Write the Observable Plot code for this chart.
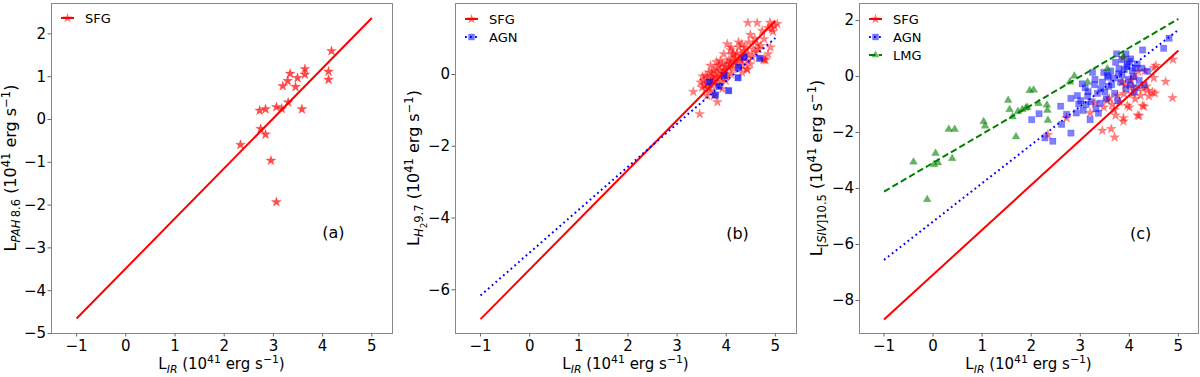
<!DOCTYPE html>
<html><head><meta charset="utf-8">
<script src="https://cdn.jsdelivr.net/npm/d3@7"></script>
<script src="https://cdn.jsdelivr.net/npm/@observablehq/plot@0.6"></script>
<style>
body{margin:0;background:#fff;}
#row{display:flex;width:1200px;height:377px;}
#row svg{display:block;flex:none;}
</style>
</head><body><div id="row"></div>
<script>
// ---------- Panel (a): PAH 8.6 ----------
const a_sfg_x = [2.33,2.72,2.84,2.74,2.84,2.95,3.06,3.06,3.17,3.30,3.19,3.29,3.34,3.49,3.45,3.58,3.64,3.64,4.12,4.12,4.18];
const a_sfg_y = [-0.59,0.21,0.24,-0.22,-0.35,-0.96,-1.93,0.29,0.25,0.40,0.78,0.90,1.07,0.97,0.76,0.24,1.18,1.05,1.12,0.93,1.60];
const a_fit_x = [-1, 5];
const a_fit_y = [-4.65, 2.37];

// ---------- Panel (b): H2 9.7 ----------
const b_sfg_x = [4.44,4.63,4.89,4.98,4.93,5.04,4.49,4.46,4.77,4.85,4.77,4.02,4.09,4.26,4.36,4.29,4.19,4.12,4.02,3.92,3.85,3.68,3.75,3.65,3.58,3.54,3.61,3.71,3.48,3.58,3.68,3.33,3.46,3.82,4.43,3.88,3.99,4.09,4.15,4.22,4.43,4.53,4.60,4.66,4.70,4.49,4.32,3.75,3.82,3.92,3.51,3.75,4.80,3.95,4.05,3.82,3.71,4.15,3.95,3.88,4.32,4.39,4.32,4.63,4.90,4.73,3.61,4.76,4.42,
  3.62,3.70,3.78,3.80,3.87,3.93,3.97,4.00,4.05,4.08,4.12,4.18,4.22,4.28,4.33,4.38,4.45,4.55,3.56,3.64,3.72,3.90,4.00,3.52,3.80,4.10,4.25,4.58,4.95,4.85];
const b_sfg_y = [1.44,1.44,1.45,1.36,1.27,1.41,1.11,0.90,0.99,0.57,0.43,0.85,0.68,0.76,0.66,0.53,0.48,0.39,0.34,0.29,0.25,0.25,0.11,0.06,-0.03,-0.17,-0.26,-0.31,-0.22,-0.40,-0.45,-0.48,-1.10,-0.77,0.13,-0.08,-0.17,0.01,0.15,0.29,0.39,0.48,0.62,0.71,0.80,0.29,0.06,-0.12,-0.26,-0.40,-0.36,-0.59,0.40,0.11,0.20,0.02,-0.08,0.57,0.57,0.39,0.39,0.57,0.85,0.85,0.76,1.22,-0.59,0.41,0.16,
  -0.10,0.05,-0.05,0.18,0.10,0.05,0.22,0.12,0.40,0.28,0.55,0.35,0.60,0.42,0.25,0.75,0.55,0.70,-0.30,-0.38,-0.18,-0.20,-0.05,-0.05,0.35,0.75,0.90,1.00,1.20,1.30];
const b_agn_x = [3.66,3.85,3.78,4.05,3.96,4.24,4.25,4.36,4.68];
const b_agn_y = [-0.21,-0.33,-0.57,-0.45,-0.03,-0.09,0.20,0.48,0.45];
const b_fit_sfg_x = [-1, 5];
const b_fit_sfg_y = [-6.82, 1.50];
const b_fit_agn_x = [-1, 5];
const b_fit_agn_y = [-6.16, 1.02];

// ---------- Panel (c): [SIV] 10.5 ----------
const c_sfg_x = [2.34,2.72,3.20,3.45,3.63,3.70,3.48,3.59,3.69,3.72,3.88,3.88,3.96,4.00,3.89,3.88,4.03,4.06,4.17,4.20,4.23,4.27,4.30,4.37,4.47,4.52,4.50,4.50,4.74,4.88,4.89,4.18,4.10,3.76,4.32,4.54,3.80,3.65,4.06,4.27,3.92,4.12,4.35,3.55,3.30,3.85,4.40];
const c_sfg_y = [-2.08,-1.48,-1.30,-1.93,-1.87,-2.17,-1.10,-0.78,-1.19,-1.39,-1.48,-1.60,-1.04,-1.10,-0.62,0.67,-0.14,-0.36,-1.39,-1.40,-0.68,-0.44,-1.07,-0.50,-0.56,-0.60,0.31,-0.05,-0.18,-0.76,0.61,0.18,-0.02,-0.68,0.21,0.39,-0.90,-1.00,-0.62,-1.04,-0.30,-0.80,-0.35,-0.85,-0.95,-0.20,-0.70];
const c_agn_x = [2.01,2.16,2.28,2.44,2.60,2.62,2.81,2.81,2.94,3.01,2.97,3.04,3.06,3.16,3.20,3.25,3.29,3.32,3.37,3.42,3.48,3.53,3.55,3.64,3.72,3.76,3.74,3.93,4.00,3.93,4.06,4.16,4.27,4.37,4.70,4.81,4.20,4.10,3.10,3.15,3.22,3.35,3.45,3.50,3.58,3.62,3.68,3.78,3.82,3.85,3.90,3.98,4.02,4.08,4.12,4.15,3.70,3.40,3.85,3.95,4.25,4.30,3.30,3.12,2.92,2.72,3.57,3.79,3.96,4.03];
const c_agn_y = [-1.54,-1.33,-2.19,-2.31,-1.06,-1.71,-0.78,-2.02,-0.68,-0.86,-0.98,-0.26,-1.21,-0.54,-1.54,0.15,-0.29,-1.15,-1.31,-0.44,0.15,-0.80,0.04,-0.29,0.51,-0.86,0.81,0.81,0.54,-0.44,0.21,0.45,0.95,0.19,1.01,1.37,-0.14,-0.56,-0.40,-0.70,-0.90,-0.60,-0.20,-0.55,-0.35,0.20,-0.05,0.10,-0.20,0.05,0.25,-0.10,-0.30,0.00,0.30,-0.40,-0.60,-0.95,0.60,0.35,0.30,-0.30,-0.10,-1.00,-1.30,-1.35,-0.02,0.28,0.45,0.63];
const c_lmg_x = [-0.40,-0.12,0.05,0.02,0.10,0.32,0.44,0.39,1.03,1.06,1.53,1.56,1.62,1.69,1.73,1.82,1.89,1.92,1.97,2.05,2.15,2.32,2.33,2.34,2.79,2.88,3.15,3.55,3.88];
const c_lmg_y = [-3.05,-4.39,-2.74,-3.14,-3.08,-1.88,-1.88,-2.93,-1.61,-1.77,-0.85,-1.18,-1.44,-2.15,-1.25,-1.18,-1.12,-1.10,-0.50,-0.48,-0.96,-1.02,-1.20,-1.56,-0.19,0.02,-0.20,0.27,0.72];
const c_fit_sfg_x = [-1, 5];
const c_fit_sfg_y = [-8.68, 0.93];
const c_fit_agn_x = [-1, 5];
const c_fit_agn_y = [-6.55, 1.67];
const c_fit_lmg_x = [-1, 5];
const c_fit_lmg_y = [-4.11, 2.06];

const xTicks = [-1, 0, 1, 2, 3, 4, 5];
const aYTicks = [-5, -4, -3, -2, -1, 0, 1, 2];
const bYTicks = [-6, -4, -2, 0];
const cYTicks = [-8, -6, -4, -2, 0, 2];
const seriesNames = ["SFG", "AGN", "LMG"];

// ---------- helpers ----------
const FONT = "DejaVu Sans, sans-serif";
const fmt = d => d < 0 ? "\u2212" + Math.abs(d) : String(d);
const pts = (xs, ys) => xs.map((x, i) => ({x, y: ys[i]}));

const STY = {
  SFG: {symbol: "star", color: "red", r: 3.1, line: {stroke: "red", dash: null}},
  AGN: {symbol: "square", color: "blue", r: 3.6, line: {stroke: "blue", dash: "1.8,3.2"}},
  LMG: {symbol: "triangle", color: "green", r: 2.9, line: {stroke: "green", dash: "6.5,3.2"}}
};

function rich(textSel, parts, fs) {
  const off = {n: 0, sub: 0.28, sup: -0.38, ssub: 0.5};
  const size = {n: 1, sub: 0.72, sup: 0.72, ssub: 0.55};
  let cur = 0;
  parts.forEach(p => {
    const target = off[p.s] * fs;
    textSel.append("tspan")
      .attr("dy", target - cur)
      .attr("font-size", size[p.s] * fs)
      .attr("font-style", p.i ? "italic" : "normal")
      .text(p.t);
    cur = target;
  });
}

const unitParts = [
  {t: " (10", s: "n"}, {t: "41", s: "sup"}, {t: " erg s", s: "n"}, {t: "\u22121", s: "sup"}, {t: ")", s: "n"}
];
const xLabelParts = [{t: "L", s: "n"}, {t: "IR", s: "sub", i: true}, ...unitParts];

function panel(cfg) {
  const marks = [
    Plot.frame({stroke: "#888", strokeWidth: 1}),
    Plot.axisX({ticks: xTicks, tickSize: 3.5, tickPadding: 3, tickFormat: fmt, label: null, fontSize: 15, stroke: "#666", fill: "black"}),
    Plot.axisY({ticks: cfg.yTicks, tickSize: 3.5, tickPadding: 2, tickFormat: fmt, label: null, fontSize: 15, stroke: "#666", fill: "black"})
  ];
  cfg.series.forEach(s => {
    const st = STY[s.name];
    marks.push(Plot.dot(pts(s.x, s.y), {x: "x", y: "y", symbol: () => st.symbol, r: st.r,
      fill: st.color, fillOpacity: s.alpha, stroke: st.color, strokeOpacity: s.alpha * 0.6, strokeWidth: 0.5}));
  });
  cfg.fits.forEach(f => {
    const st = STY[f.name];
    marks.push(Plot.line(pts(f.x, f.y), {x: "x", y: "y", stroke: st.line.stroke, strokeWidth: 2,
      strokeDasharray: st.line.dash, strokeLinecap: "butt"}));
  });
  marks.push(Plot.text([cfg.tag], {x: cfg.tagX, y: cfg.tagY, text: d => d, fontSize: 16, fill: "black"}));

  const svg = Plot.plot({
    width: 400, height: 377,
    marginLeft: cfg.ml, marginRight: cfg.mr, marginTop: 3, marginBottom: 44,
    x: {domain: cfg.xDomain},
    y: {domain: cfg.yDomain},
    symbol: {type: "identity"},
    style: {fontFamily: FONT, fontSize: "15px", background: "white", overflow: "visible"},
    marks
  });

  const s = d3.select(svg);
  const frameL = cfg.ml, frameR = 400 - cfg.mr;
  // x label
  const xl = s.append("text").attr("x", (frameL + frameR) / 2).attr("y", 369)
    .attr("text-anchor", "middle").attr("font-family", FONT).attr("font-size", 15).attr("fill", "black");
  rich(xl, xLabelParts, 15);
  // y label
  const yl = s.append("text").attr("transform", `translate(${cfg.ylx},168) rotate(-90)`)
    .attr("text-anchor", "middle").attr("font-family", FONT).attr("font-size", 16).attr("fill", "black");
  rich(yl, [...cfg.yParts, ...unitParts], 16);
  // legend
  const lg = s.append("g").attr("font-family", FONT).attr("font-size", 13).attr("text-anchor", "start");
  cfg.legend.forEach((name, i) => {
    const st = STY[name];
    const y = cfg.lgY + i * 18;
    const row = lg.append("g");
    row.append("line").attr("x1", cfg.lgX).attr("x2", cfg.lgX + 13).attr("y1", y).attr("y2", y)
      .attr("stroke", st.line.stroke).attr("stroke-width", 2).attr("stroke-dasharray", st.line.dash);
    const sym = {star: d3.symbolStar, square: d3.symbolSquare, triangle: d3.symbolTriangle}[st.symbol];
    row.append("path").attr("d", d3.symbol(sym, Math.PI * st.r * st.r)())
      .attr("transform", `translate(${cfg.lgX + 6.5},${y})`)
      .attr("fill", st.color).attr("fill-opacity", 0.55);
    row.append("text").attr("x", cfg.lgX + 24).attr("y", y + 4.5).attr("text-anchor", "start").attr("fill", "black").text(name);
  });
  return svg;
}

const row = document.getElementById("row");
row.appendChild(panel({
  ml: 51, mr: 8, xDomain: [-1.51, 5.42], yDomain: [-5.0, 2.71], yTicks: aYTicks,
  series: [{name: seriesNames[0], x: a_sfg_x, y: a_sfg_y, alpha: 0.7}],
  fits: [{name: seriesNames[0], x: a_fit_x, y: a_fit_y}],
  tag: "(a)", tagX: 4.22, tagY: -2.66,
  ylx: 16, yParts: [{t: "L", s: "n"}, {t: "PAH", s: "sub", i: true}, {t: "\u20098.6", s: "sub"}],
  legend: [seriesNames[0]], lgX: 61, lgY: 18
}));
row.appendChild(panel({
  ml: 55, mr: 4, xDomain: [-1.51, 5.43], yDomain: [-7.22, 1.98], yTicks: bYTicks,
  series: [{name: seriesNames[0], x: b_sfg_x, y: b_sfg_y, alpha: 0.5}, {name: seriesNames[1], x: b_agn_x, y: b_agn_y, alpha: 0.7}],
  fits: [{name: seriesNames[0], x: b_fit_sfg_x, y: b_fit_sfg_y}, {name: seriesNames[1], x: b_fit_agn_x, y: b_fit_agn_y}],
  tag: "(b)", tagX: 4.23, tagY: -4.44,
  ylx: 19, yParts: [{t: "L", s: "n"}, {t: "H", s: "sub", i: true}, {t: "2", s: "ssub"}, {t: "9.7", s: "sub"}],
  legend: [seriesNames[0], seriesNames[1]], lgX: 65, lgY: 19
}));
row.appendChild(panel({
  ml: 59, mr: 2, xDomain: [-1.50, 5.41], yDomain: [-9.18, 2.61], yTicks: cYTicks,
  series: [{name: seriesNames[0], x: c_sfg_x, y: c_sfg_y, alpha: 0.5}, {name: seriesNames[1], x: c_agn_x, y: c_agn_y, alpha: 0.5}, {name: seriesNames[2], x: c_lmg_x, y: c_lmg_y, alpha: 0.6}],
  fits: [{name: seriesNames[0], x: c_fit_sfg_x, y: c_fit_sfg_y}, {name: seriesNames[1], x: c_fit_agn_x, y: c_fit_agn_y}, {name: seriesNames[2], x: c_fit_lmg_x, y: c_fit_lmg_y}],
  tag: "(c)", tagX: 4.23, tagY: -5.62,
  ylx: 22, yParts: [{t: "L", s: "n"}, {t: "[", s: "sub"}, {t: "SIV", s: "sub", i: true}, {t: "]10.5", s: "sub"}],
  legend: seriesNames, lgX: 69, lgY: 19
}));
</script></body></html>
